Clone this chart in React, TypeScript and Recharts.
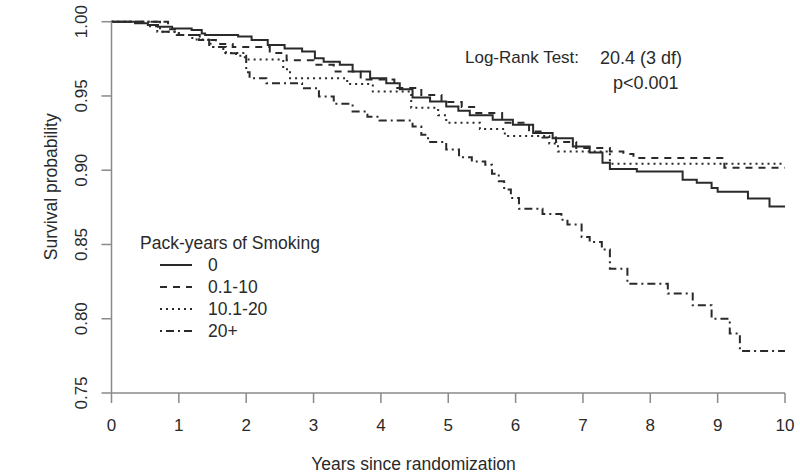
import { Label, Legend, Line, LineChart, XAxis, YAxis } from 'recharts';

const FONT = '"Liberation Sans", Arial, Helvetica, sans-serif';
const INK = '#2a2a2a';
const AXIS = '#8a8a8a';

const xTicks = [0, 1, 2, 3, 4, 5, 6, 7, 8, 9, 10];
const yTicks = [0.75, 0.8, 0.85, 0.9, 0.95, 1.0];

// Kaplan-Meier step points (time in years, survival)
const neverSmoked = [
  { t: 0, s: 1 }, { t: 0.35, s: 0.999 }, { t: 0.54, s: 0.9978 }, { t: 0.69, s: 0.9966 },
  { t: 0.9, s: 0.9955 }, { t: 1.19, s: 0.9944 }, { t: 1.34, s: 0.992 }, { t: 1.39, s: 0.991 },
  { t: 1.88, s: 0.99 }, { t: 2.08, s: 0.9877 }, { t: 2.32, s: 0.9843 }, { t: 2.57, s: 0.982 },
  { t: 2.83, s: 0.98 }, { t: 3.02, s: 0.9754 }, { t: 3.15, s: 0.9731 }, { t: 3.39, s: 0.971 },
  { t: 3.58, s: 0.9664 }, { t: 3.84, s: 0.962 }, { t: 4.08, s: 0.9586 }, { t: 4.28, s: 0.9546 },
  { t: 4.47, s: 0.949 }, { t: 4.73, s: 0.9462 }, { t: 4.97, s: 0.9429 }, { t: 5.15, s: 0.94 },
  { t: 5.32, s: 0.937 }, { t: 5.66, s: 0.934 }, { t: 5.96, s: 0.9306 }, { t: 6.26, s: 0.925 },
  { t: 6.55, s: 0.9216 }, { t: 6.85, s: 0.916 }, { t: 7.1, s: 0.912 }, { t: 7.29, s: 0.905 },
  { t: 7.4, s: 0.9008 }, { t: 7.8, s: 0.8992 }, { t: 8.48, s: 0.8936 }, { t: 8.69, s: 0.8916 },
  { t: 8.91, s: 0.888 }, { t: 9.0, s: 0.8855 }, { t: 9.45, s: 0.881 }, { t: 9.77, s: 0.8755 },
  { t: 10, s: 0.8755 },
];

const upTo10 = [
  { t: 0, s: 1 }, { t: 0.84, s: 0.995 }, { t: 1.0, s: 0.991 }, { t: 1.3, s: 0.9877 },
  { t: 1.55, s: 0.985 }, { t: 1.8, s: 0.983 }, { t: 2.35, s: 0.979 }, { t: 2.6, s: 0.974 },
  { t: 3.0, s: 0.971 }, { t: 3.3, s: 0.9664 }, { t: 3.7, s: 0.961 }, { t: 4.2, s: 0.9554 },
  { t: 4.6, s: 0.9507 }, { t: 4.9, s: 0.946 }, { t: 5.2, s: 0.9425 }, { t: 5.4, s: 0.9386 },
  { t: 5.8, s: 0.932 }, { t: 6.2, s: 0.926 }, { t: 6.4, s: 0.922 }, { t: 6.6, s: 0.919 },
  { t: 6.9, s: 0.915 }, { t: 7.4, s: 0.9126 }, { t: 7.6, s: 0.911 }, { t: 7.75, s: 0.9083 },
  { t: 9.1, s: 0.9017 }, { t: 10, s: 0.9017 },
];

const upTo20 = [
  { t: 0, s: 1 }, { t: 0.55, s: 0.997 }, { t: 0.68, s: 0.9933 }, { t: 1.0, s: 0.991 },
  { t: 1.2, s: 0.988 }, { t: 1.47, s: 0.983 }, { t: 1.66, s: 0.979 }, { t: 1.98, s: 0.9745 },
  { t: 2.55, s: 0.968 }, { t: 2.65, s: 0.962 }, { t: 3.5, s: 0.958 }, { t: 3.88, s: 0.953 },
  { t: 4.45, s: 0.942 }, { t: 4.85, s: 0.937 }, { t: 4.97, s: 0.932 }, { t: 5.47, s: 0.9277 },
  { t: 5.84, s: 0.923 }, { t: 6.5, s: 0.918 }, { t: 6.63, s: 0.9126 }, { t: 7.4, s: 0.9044 },
  { t: 10, s: 0.9044 },
];

const over20 = [
  { t: 0, s: 1 }, { t: 0.72, s: 0.9933 }, { t: 0.97, s: 0.991 }, { t: 1.31, s: 0.9877 },
  { t: 1.45, s: 0.983 }, { t: 1.7, s: 0.9788 }, { t: 1.85, s: 0.977 }, { t: 2.0, s: 0.966 },
  { t: 2.05, s: 0.962 }, { t: 2.3, s: 0.9586 }, { t: 2.83, s: 0.9552 }, { t: 3.08, s: 0.9496 },
  { t: 3.3, s: 0.9447 }, { t: 3.58, s: 0.9395 }, { t: 3.8, s: 0.936 }, { t: 3.98, s: 0.9335 },
  { t: 4.47, s: 0.9294 }, { t: 4.6, s: 0.9238 }, { t: 4.7, s: 0.919 }, { t: 4.97, s: 0.914 },
  { t: 5.16, s: 0.9088 }, { t: 5.35, s: 0.9059 }, { t: 5.55, s: 0.9037 }, { t: 5.65, s: 0.8977 },
  { t: 5.75, s: 0.8925 }, { t: 5.83, s: 0.887 }, { t: 5.93, s: 0.8813 }, { t: 6.05, s: 0.874 },
  { t: 6.4, s: 0.8706 }, { t: 6.68, s: 0.8667 }, { t: 6.77, s: 0.8634 }, { t: 6.98, s: 0.855 },
  { t: 7.1, s: 0.8516 }, { t: 7.28, s: 0.8466 }, { t: 7.4, s: 0.8336 }, { t: 7.66, s: 0.8235 },
  { t: 8.26, s: 0.817 }, { t: 8.63, s: 0.809 }, { t: 8.91, s: 0.8 }, { t: 9.18, s: 0.79 },
  { t: 9.33, s: 0.7782 }, { t: 10, s: 0.7782 },
];

const dashes: Record<string, string | undefined> = {
  '0': undefined,
  '0.1-10': '7 6',
  '10.1-20': '2 4',
  '20+': '2 4 8 4',
};

function YTick({ x, y, payload }: any) {
  return (
    <text x={x} y={y} transform={`rotate(-90, ${x}, ${y})`} textAnchor="middle"
      fill={INK} fontSize={17} fontFamily={FONT}>
      {Number(payload.value).toFixed(2)}
    </text>
  );
}

function XTick({ x, y, payload }: any) {
  return (
    <text x={x} y={y} dy="0.71em" textAnchor="middle" fill={INK} fontSize={17} fontFamily={FONT}>
      {payload.value}
    </text>
  );
}

function SmokingLegend({ payload }: any) {
  return (
    <div style={{ fontFamily: FONT, fontSize: 17.5, color: INK, lineHeight: '22px' }}>
      <div>Pack-years of Smoking</div>
      {(payload || []).map((entry: any) => (
        <div key={entry.value} style={{ display: 'flex', alignItems: 'center', height: 22 }}>
          <svg width={32} height={6} style={{ marginLeft: 20, marginRight: 16 }}>
            <line x1={0} x2={32} y1={3} y2={3} stroke={INK} strokeWidth={2}
              strokeDasharray={dashes[entry.value]} />
          </svg>
          <span>{entry.value}</span>
        </div>
      ))}
    </div>
  );
}

const noteStyle = {
  position: 'absolute' as const,
  fontFamily: FONT,
  fontSize: 18,
  color: INK,
  lineHeight: '22px',
  whiteSpace: 'pre' as const,
};

export default function App() {
  return (
    <div style={{ position: 'absolute', left: 0, top: 0, width: 800, height: 476, background: '#fff' }}>
      <LineChart width={800} height={476} margin={{ top: 21.7, right: 15, bottom: 0, left: 0 }}>
        <XAxis
          dataKey="t"
          type="number"
          domain={[0, 10]}
          ticks={xTicks}
          height={83}
          tickSize={10}
          tickMargin={16}
          tick={<XTick />}
          axisLine={{ stroke: AXIS, strokeWidth: 1.5 }}
          tickLine={{ stroke: AXIS, strokeWidth: 1.5 }}
        >
          <Label
            content={({ viewBox }: any) => (
              <text x={viewBox.x + 302} y={viewBox.y + viewBox.height - 6} textAnchor="middle"
                fill={INK} fontSize={17.5} fontFamily={FONT}>
                Years since randomization
              </text>
            )}
          />
        </XAxis>
        <YAxis
          type="number"
          domain={[0.75, 1]}
          ticks={yTicks}
          width={111.5}
          tickSize={10}
          tickMargin={14.5}
          tick={<YTick />}
          axisLine={{ stroke: AXIS, strokeWidth: 1.5 }}
          tickLine={{ stroke: AXIS, strokeWidth: 1.5 }}
        >
          <Label
            content={({ viewBox }: any) => {
              const cx = viewBox.x + 57;
              const cy = viewBox.y + 165;
              return (
                <text x={cx} y={cy} transform={`rotate(-90, ${cx}, ${cy})`} textAnchor="middle"
                  fill={INK} fontSize={17.5} fontFamily={FONT}>
                  Survival probability
                </text>
              );
            }}
          />
        </YAxis>
        <Legend
          layout="vertical"
          align="center"
          verticalAlign="middle"
          content={<SmokingLegend />}
          wrapperStyle={{ left: 140, top: 232, width: 220, height: 110 }}
        />
        <Line data={neverSmoked} dataKey="s" name="0" type="stepAfter" stroke={INK}
          strokeWidth={2} dot={false} isAnimationActive={false} />
        <Line data={upTo10} dataKey="s" name="0.1-10" type="stepAfter" stroke={INK}
          strokeWidth={2} strokeDasharray={dashes['0.1-10']} dot={false} isAnimationActive={false} />
        <Line data={upTo20} dataKey="s" name="10.1-20" type="stepAfter" stroke={INK}
          strokeWidth={2} strokeDasharray={dashes['10.1-20']} dot={false} isAnimationActive={false} />
        <Line data={over20} dataKey="s" name="20+" type="stepAfter" stroke={INK}
          strokeWidth={2} strokeDasharray={dashes['20+']} dot={false} isAnimationActive={false} />
      </LineChart>
      <div style={{ ...noteStyle, left: 465, top: 47, fontSize: 17 }}>Log-Rank Test:</div>
      <div style={{ ...noteStyle, left: 600, top: 47 }}>20.4 (3 df)</div>
      <div style={{ ...noteStyle, left: 613, top: 72 }}>p&lt;0.001</div>
    </div>
  );
}
